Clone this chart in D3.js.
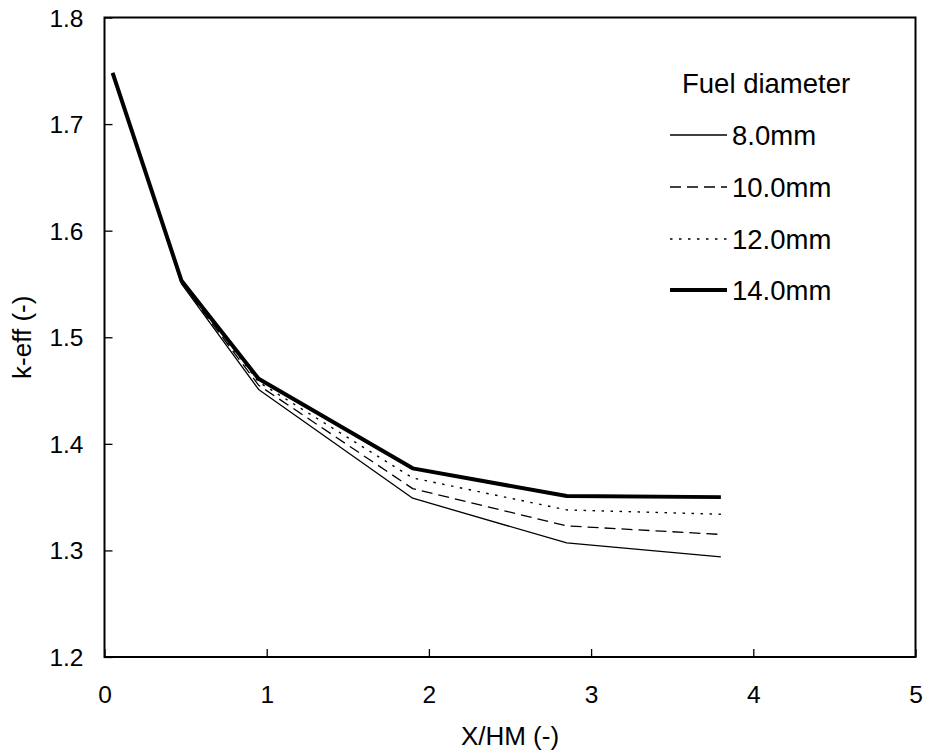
<!DOCTYPE html>
<html>
<head>
<meta charset="utf-8">
<script src="https://cdn.jsdelivr.net/npm/d3@7"></script>
<style>
  body { margin: 0; background: #fff; }
  svg text { font-family: "Liberation Sans", Arial, sans-serif; fill: #000; }
</style>
</head>
<body>
<svg id="chart" width="928" height="756"></svg>
<script>
// x positions (X/HM) shared by all series
const xValues = [0.05, 0.475, 0.95, 1.9, 2.85, 3.8];

// k-eff per fuel diameter
const keff8 = [1.748, 1.550, 1.451, 1.349, 1.307, 1.294];
const keff10 = [1.748, 1.551, 1.455, 1.358, 1.323, 1.315];
const keff12 = [1.748, 1.552, 1.458, 1.368, 1.338, 1.334];
const keff14 = [1.748, 1.553, 1.461, 1.377, 1.351, 1.350];

const seriesNames = ['8.0mm', '10.0mm', '12.0mm', '14.0mm'];
const seriesValues = [keff8, keff10, keff12, keff14];

const xTicks = [0, 1, 2, 3, 4, 5];
const yTicks = [1.2, 1.3, 1.4, 1.5, 1.6, 1.7, 1.8];

// line styles, one per series
const styles = [
    { width: 1.3, dash: null },
    { width: 1.3, dash: '11,6' },
    { width: 1.4, dash: '2.5,6.5' },
    { width: 4, dash: null }
];

const margin = { top: 17.5, right: 12.5, bottom: 99, left: 104.5 };
const width = 928 - margin.left - margin.right;
const height = 756 - margin.top - margin.bottom;

const svg = d3.select('#chart');
const chart = svg.append('g')
    .attr('transform', `translate(${margin.left},${margin.top})`);

const xScale = d3.scaleLinear().domain([0, 5]).range([0, width]);
const yScale = d3.scaleLinear().domain([1.2, 1.8]).range([height, 0]);

// axes with inward ticks
const xAxisG = chart.append('g')
    .attr('transform', `translate(0,${height})`)
    .call(d3.axisBottom(xScale).tickValues(xTicks).tickSize(-8).tickSizeOuter(0).tickPadding(29).tickFormat(d3.format('d')));
const yAxisG = chart.append('g')
    .call(d3.axisLeft(yScale).tickValues(yTicks).tickSize(-8).tickSizeOuter(0).tickPadding(21).tickFormat(d3.format('.1f')));

[xAxisG, yAxisG].forEach(g => {
    g.select('.domain').remove();
    g.selectAll('.tick line').attr('stroke', '#000').attr('stroke-width', 1.3);
    g.selectAll('.tick text')
        .style('font-size', '24.5px')
        .style('font-family', '"Liberation Sans", Arial, sans-serif')
        .attr('fill', '#000');
});
yAxisG.selectAll('.tick text').attr('dy', '0.35em');

// frame
chart.append('rect')
    .attr('x', 0).attr('y', 0)
    .attr('width', width).attr('height', height)
    .attr('fill', 'none')
    .attr('stroke', '#000')
    .attr('stroke-width', 2);

// lines
const line = d3.line()
    .x((d, i) => xScale(xValues[i]))
    .y(d => yScale(d));

chart.selectAll('.series')
    .data(seriesValues)
    .enter()
    .append('path')
    .attr('class', 'series')
    .attr('d', d => line(d))
    .attr('fill', 'none')
    .attr('stroke', '#000')
    .attr('stroke-linejoin', 'round')
    .attr('stroke-width', (d, i) => styles[i].width)
    .attr('stroke-dasharray', (d, i) => styles[i].dash);

// axis titles
chart.append('text')
    .attr('x', width / 2)
    .attr('y', height + 88)
    .attr('text-anchor', 'middle')
    .style('font-size', '26px')
    .text('X/HM (-)');

chart.append('text')
    .attr('transform', 'rotate(-90)')
    .attr('x', -height / 2)
    .attr('y', -73.5)
    .attr('text-anchor', 'middle')
    .style('font-size', '26px')
    .text('k-eff (-)');

// legend
const legend = svg.append('g');
legend.append('text')
    .attr('x', 682)
    .attr('y', 93)
    .style('font-size', '27.5px')
    .text('Fuel diameter');

const rowY = [135, 187, 239, 290];
const item = legend.selectAll('.item')
    .data(seriesNames)
    .enter()
    .append('g')
    .attr('class', 'item')
    .attr('transform', (d, i) => `translate(0,${rowY[i]})`);

item.append('line')
    .attr('x1', 670).attr('x2', 727)
    .attr('stroke', '#000')
    .attr('stroke-width', (d, i) => styles[i].width)
    .attr('stroke-dasharray', (d, i) => styles[i].dash);

item.append('text')
    .attr('x', 732)
    .attr('dy', '0.35em')
    .style('font-size', '27.5px')
    .text(d => d);
</script>
</body>
</html>
